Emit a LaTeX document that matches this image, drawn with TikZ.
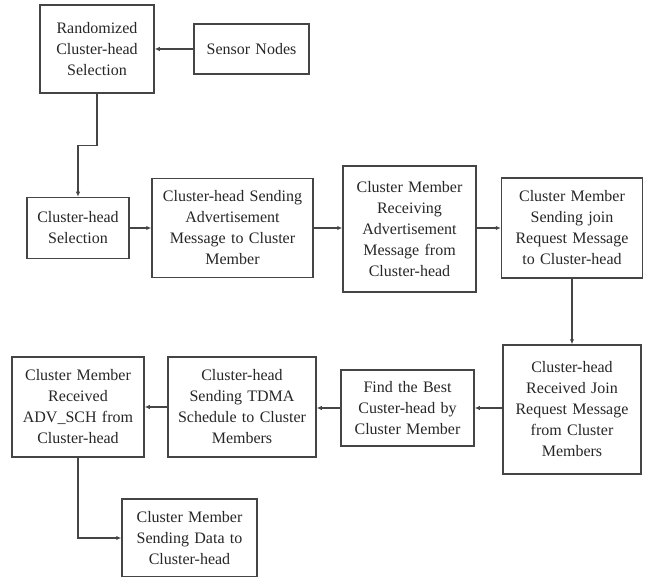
\documentclass[tikz,border=0pt]{standalone}
\usepackage{fontspec}
\setmainfont{Liberation Serif}
\newfontfamily\boxfont{Liberation Serif}
\usetikzlibrary{arrows.meta}

\definecolor{linegray}{HTML}{454545}
\definecolor{textgray}{HTML}{262626}

\tikzset{
  procbox/.style={draw=linegray, line width=1.5pt, align=center, inner sep=2pt,
    text=textgray, font=\boxfont\fontsize{16}{21}\selectfont},
  flow/.style={draw=linegray, line width=1.5pt, -{Latex[length=5pt,width=4.5pt]}}
}

\begin{document}
\begin{tikzpicture}[x=1pt, y=-1pt]
  \useasboundingbox (0,0) rectangle (645,577);

  % first row
  \node [procbox, minimum width=114pt, minimum height=88pt, text width=108pt] (rand) at (97,49)
    {Randomized\\Cluster-head\\Selection};
  \node [procbox, minimum width=115pt, minimum height=50pt, text width=109pt] (sensor) at (251.5,49)
    {Sensor Nodes};

  % second row
  \node [procbox, minimum width=102pt, minimum height=61pt, text width=96pt] (chsel) at (78,228)
    {Cluster-head\\Selection};
  \node [procbox, minimum width=161pt, minimum height=99pt, text width=155pt] (chsend) at (232.5,228)
    {Cluster-head Sending\\Advertisement\\Message to Cluster\\Member};
  \node [procbox, minimum width=133pt, minimum height=126pt, text width=127pt] (cmrecv) at (409.5,229)
    {Cluster Member\\Receiving\\Advertisement\\Message from\\Cluster-head};
  \node [procbox, minimum width=141pt, minimum height=100pt, text width=135pt] (cmjoin) at (572,228)
    {Cluster Member\\Sending join\\Request Message\\to Cluster-head};

  % third row
  \node [procbox, minimum width=138pt, minimum height=129pt, text width=132pt] (chrecv) at (572,409.5)
    {Cluster-head\\Received Join\\Request Message\\from Cluster\\Members};
  \node [procbox, minimum width=133pt, minimum height=76pt, text width=127pt] (best) at (407.5,408)
    {Find the Best\\Custer-head by\\Cluster Member};
  \node [procbox, minimum width=148pt, minimum height=100pt, text width=142pt] (tdma) at (242,407)
    {Cluster-head\\Sending TDMA\\Schedule to Cluster\\Members};
  \node [procbox, minimum width=132pt, minimum height=100pt, text width=126pt] (advsch) at (78,407)
    {Cluster Member\\Received\\ADV\_SCH from\\Cluster-head};

  % last box
  \node [procbox, minimum width=135pt, minimum height=78pt, text width=129pt] (data) at (189.5,538)
    {Cluster Member\\Sending Data to\\Cluster-head};

  % connectors
  \draw [flow] (sensor) -- (rand);
  \draw [flow] (rand.south) -- ++(0,52) -| (chsel.north);
  \draw [flow] (chsel) -- (chsend);
  \draw [flow] (chsend.east) -- (cmrecv.west |- chsend.east);
  \draw [flow] (cmrecv.east |- cmjoin.west) -- (cmjoin.west);
  \draw [flow] (cmjoin) -- (chrecv);
  \draw [flow] (chrecv.west |- best.east) -- (best.east);
  \draw [flow] (best.west) -- (tdma.east |- best.west);
  \draw [flow] (tdma.west) -- (advsch.east |- tdma.west);
  \draw [flow] (advsch.south) |- (data.west);
\end{tikzpicture}
\end{document}
